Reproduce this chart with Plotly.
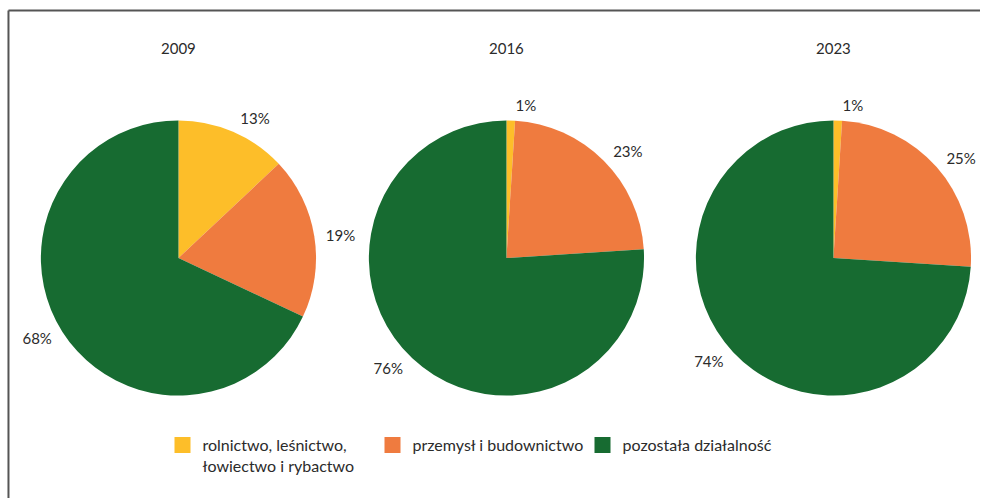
import plotly.graph_objects as go

years = ["2009", "2016", "2023"]
categories = ["rolnictwo, leśnictwo,<br>łowiectwo i rybactwo", "przemysł i budownictwo", "pozostała działalność"]
values_2009 = [13, 19, 68]
values_2016 = [1, 23, 76]
values_2023 = [1, 25, 74]
series = [values_2009, values_2016, values_2023]
colors = ["#FDBE29", "#EF7B3F", "#176B31"]

W, H = 983, 498
FONT = "Lato"
TXT = "#2b2b2b"


def px(x):  # screen x (px) -> paper x
    return x / W


def py(y):  # screen y (px from top) -> paper y
    return 1 - y / H


# pie centres / radius in screen px
centers_x = [179, 508, 836]
cy, r = 258, 138
r_lab = 145  # radius of the (transparent) label ring

fig = go.Figure()
for i, (yr, vals) in enumerate(zip(years, series)):
    cx = centers_x[i]
    fig.add_trace(go.Pie(
        labels=categories, values=vals, sort=False, direction="clockwise", rotation=0,
        marker=dict(colors=colors, line=dict(width=0)),
        textinfo="none", showlegend=False, hoverinfo="label+value",
        domain=dict(x=[px(cx - r), px(cx + r)], y=[py(cy + r), py(cy - r)]),
    ))
    # transparent ring only used to place the value labels a little further out
    fig.add_trace(go.Pie(
        labels=categories, values=vals, sort=False, direction="clockwise", rotation=0,
        marker=dict(colors=["rgba(0,0,0,0)"] * 3, line=dict(width=0)),
        texttemplate="%{value}%", textposition="outside",
        outsidetextfont=dict(family=FONT, size=15, color=TXT),
        showlegend=False, hoverinfo="skip",
        domain=dict(x=[px(cx - r_lab), min(1, px(cx + r_lab))], y=[py(cy + r_lab), py(cy - r_lab)]),
    ))
    fig.add_annotation(text=yr, x=px(cx), y=py(48), xref="paper", yref="paper",
                       xanchor="center", yanchor="middle",
                       showarrow=False, font=dict(family=FONT, size=15, color=TXT))

for name, col in zip(categories, colors):
    fig.add_trace(go.Scatter(x=[None], y=[None], mode="markers", name=name,
                             marker=dict(symbol="square", size=16, color=col, line=dict(width=0))))

# frame lines (top and left)
fig.add_shape(type="line", xref="paper", yref="paper", x0=px(8.5), x1=1, y0=py(10.5), y1=py(10.5),
              line=dict(color="#555555", width=2))
fig.add_shape(type="line", xref="paper", yref="paper", x0=px(8.5), x1=px(8.5), y0=0, y1=py(10.5),
              line=dict(color="#555555", width=2))

fig.update_layout(
    width=W, height=H, margin=dict(l=0, r=0, t=0, b=0),
    paper_bgcolor="white", plot_bgcolor="white",
    xaxis=dict(visible=False), yaxis=dict(visible=False),
    font=dict(family=FONT, size=15, color=TXT),
    legend=dict(orientation="h", x=px(163), y=py(428), xanchor="left", yanchor="top",
                entrywidth=165, valign="top", itemsizing="trace",
                font=dict(family=FONT, size=16, color=TXT), bgcolor="rgba(0,0,0,0)"),
)
fig.write_html(
    "out.html",
    config={"displayModeBar": False},
    post_script=("document.documentElement.style.margin='0';document.body.style.margin='0';"
                 "document.documentElement.style.overflow='hidden';document.body.style.overflow='hidden';"),
)
